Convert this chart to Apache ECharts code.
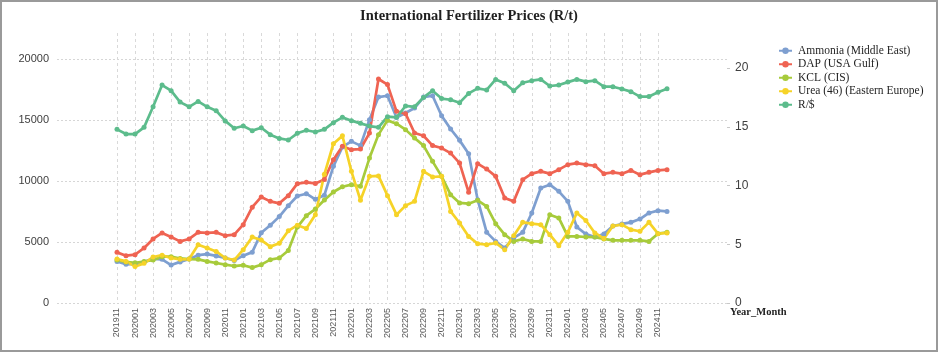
<!DOCTYPE html>
<html>
<head>
<meta charset="utf-8">
<title>International Fertilizer Prices (R/t)</title>
<script src="https://cdn.jsdelivr.net/npm/echarts@6.0.0/dist/echarts.min.js"></script>
<style>
  html, body { margin: 0; padding: 0; background: #fff; }
  #wrap { position: relative; width: 938px; height: 352px; }
  #chart { position: absolute; left: 0; top: 0; width: 938px; height: 352px; }
  #frame {
    position: absolute; left: 0; top: 0; width: 938px; height: 352px;
    box-sizing: border-box; border: 2px solid #9a9a9a; pointer-events: none;
  }
</style>
</head>
<body>
<div id="wrap">
  <div id="chart"></div>
  <div id="frame"></div>
</div>
<script>
const months = [
  '201911', '201912',
  '202001', '202002', '202003', '202004', '202005', '202006', '202007', '202008', '202009', '202010', '202011', '202012',
  '202101', '202102', '202103', '202104', '202105', '202106', '202107', '202108', '202109', '202110', '202111', '202112',
  '202201', '202202', '202203', '202204', '202205', '202206', '202207', '202208', '202209', '202210', '202211', '202212',
  '202301', '202302', '202303', '202304', '202305', '202306', '202307', '202308', '202309', '202310', '202311', '202312',
  '202401', '202402', '202403', '202404', '202405', '202406', '202407', '202408', '202409', '202410', '202411', '202412'
]

// R/t prices (left axis)
const ammonia = [
  3410, 3170, 3200, 3370, 3620, 3580, 3110, 3370, 3600, 3920, 4010, 3860, 3690, 3480, 3880, 4170,
  5760, 6380, 7080, 7980, 8770, 8960, 8500, 8840, 11200, 12790, 13250, 12900, 15030, 16880, 16990, 15200,
  15570, 15980, 16880, 16990, 15350, 14260, 13330, 12240, 8470, 5790, 5050, 4510, 5330, 5790, 7380, 9430,
  9700, 9150, 8330, 6230, 5650, 5410, 5650, 6310, 6480, 6610, 6880, 7380, 7570, 7510
]
const dap = [
  4150, 3880, 3960, 4510, 5250, 5740, 5410, 5050, 5250, 5790, 5740, 5790, 5520, 5600, 6420, 7850,
  8690, 8330, 8170, 8800, 9780, 9890, 9800, 10130, 11750, 12840, 12570, 12620, 13930, 18360, 17900, 15710,
  15520, 13930, 13710, 12900, 12700, 12290, 11470, 9070, 11420, 10980, 10380, 8610, 8330, 10110, 10600, 10790,
  10600, 10930, 11340, 11470, 11340, 11250, 10600, 10710, 10600, 10870, 10520, 10710, 10870, 10930
]
const kcl = [
  3520, 3370, 3300, 3400, 3520, 3800, 3800, 3650, 3600, 3580, 3410, 3280, 3140, 3030, 3100, 2900,
  3140, 3550, 3690, 4300, 6220, 7160, 7700, 8440, 9100, 9530, 9700, 9560, 11880, 13800, 14970, 14700,
  14210, 13520, 12900, 11610, 10380, 8880, 8200, 8140, 8420, 7920, 6500, 5600, 5050, 5250, 5050, 5050,
  7240, 6970, 5460, 5460, 5410, 5400, 5250, 5140, 5140, 5140, 5140, 5050, 5680, 5790
]
const urea = [
  3600, 3410, 3000, 3250, 3770, 3920, 3690, 3580, 3600, 4780, 4510, 4230, 3690, 3520, 4370, 5400,
  5160, 4620, 4890, 5920, 6380, 6100, 7240, 10550, 13060, 13700, 10790, 8420, 10380, 10420, 8800, 7240,
  7980, 8330, 10790, 10330, 10380, 7510, 6560, 5460, 4860, 4780, 4920, 4370, 5520, 6610, 6500, 6420,
  5600, 4700, 5790, 7380, 6760, 5740, 5290, 6310, 6420, 6010, 5880, 6610, 5680, 5740
]
// exchange rate (right axis)
const randPerDollar = [
  14.78, 14.38, 14.38, 14.95, 16.7, 18.55, 18.07, 17.1, 16.7, 17.16, 16.7, 16.37, 15.5, 14.87, 15.06, 14.67,
  14.92, 14.33, 14.01, 13.87, 14.44, 14.7, 14.55, 14.78, 15.35, 15.8, 15.52, 15.29, 15.06, 14.95, 15.86, 15.8,
  16.77, 16.7, 17.5, 18.07, 17.4, 17.3, 17.05, 17.84, 18.27, 18.13, 19.03, 18.7, 18.07, 18.75, 18.92, 19.03,
  18.47, 18.55, 18.8, 19.03, 18.84, 18.92, 18.41, 18.41, 18.21, 17.99, 17.57, 17.57, 17.93, 18.24
]

const seriesNames = ['Ammonia (Middle East)', 'DAP (USA Gulf)', 'KCL (CIS)', 'Urea (46) (Eastern Europe)', 'R/$']
const seriesColors = ['#7e9fd0', '#ef6352', '#a7cb3b', '#f6d328', '#5cbc8c']

const leftMax = 22131
const rightMax = 22.98

const chart = echarts.init(document.getElementById('chart'), null, { renderer: 'canvas' })

function lineSeries(idx, data, yAxisIndex) {
  return {
    name: seriesNames[idx],
    type: 'line',
    xAxisIndex: 1,
    yAxisIndex: yAxisIndex,
    data: data,
    symbol: 'circle',
    symbolSize: 5,
    showSymbol: true,
    lineStyle: { width: 2.7, color: seriesColors[idx] },
    itemStyle: { color: seriesColors[idx] },
    emphasis: { disabled: true },
    animation: false
  }
}

const option = {
  animation: false,
  title: {
    text: 'International Fertilizer Prices (R/t)',
    left: 'center',
    top: 4,
    textStyle: { fontFamily: 'Liberation Serif', fontWeight: 'bold', fontSize: 14.5, color: '#1f1f1f' }
  },
  legend: {
    orient: 'vertical',
    left: 773,
    top: 39,
    itemWidth: 13,
    itemHeight: 8,
    itemGap: 0,
    data: seriesNames,
    textStyle: { fontFamily: 'Liberation Serif', fontSize: 11.5, color: '#1f1f1f', lineHeight: 13.5, padding: [0, 0, 0, 1] }
  },
  grid: [
    { left: 57, right: 211, top: 33, bottom: 49 },
    { left: 117, right: 271, top: 33, bottom: 49 }
  ],
  xAxis: [
    { gridIndex: 0, type: 'value', show: false, min: 0, max: 1 },
    {
      gridIndex: 1,
      type: 'category',
      data: months,
      boundaryGap: false,
      axisLine: { show: false },
      axisTick: { show: false, interval: 1 },
      axisLabel: {
        interval: 1,
        rotate: 90,
        margin: 5,
        fontFamily: 'Liberation Sans',
        fontSize: 9,
        color: '#595959'
      },
      splitLine: {
        show: true,
        interval: 1,
        lineStyle: { color: '#d9d9d9', type: [3, 3], width: 1 }
      }
    }
  ],
  yAxis: [
    {
      gridIndex: 0,
      type: 'value',
      position: 'left',
      min: 0,
      max: leftMax,
      interval: 5000,
      axisLine: { show: false },
      axisTick: { show: false },
      axisLabel: {
        showMaxLabel: false,
        margin: 8,
        fontFamily: 'Liberation Sans',
        fontSize: 11,
        color: '#404040',
        formatter: (v) => String(v)
      },
      splitLine: { show: true, showMaxLine: false, lineStyle: { color: '#d6d6d6', type: [2, 2], width: 1 } }
    },
    {
      gridIndex: 0,
      type: 'value',
      position: 'right',
      min: 0,
      max: rightMax,
      interval: 5,
      axisLine: { show: false },
      axisTick: { show: true, length: 3, lineStyle: { color: '#c8c8c8' } },
      axisLabel: {
        showMaxLabel: false,
        margin: 8,
        fontFamily: 'Liberation Sans',
        fontSize: 12,
        color: '#404040',
        formatter: (v) => String(v)
      },
      splitLine: { show: false }
    },
    { gridIndex: 1, type: 'value', min: 0, max: leftMax, show: false },
    { gridIndex: 1, type: 'value', min: 0, max: rightMax, show: false }
  ],
  graphic: [
    {
      type: 'text',
      left: 730,
      top: 307,
      style: { text: 'Year_Month', font: 'bold 10.5px "Liberation Serif"', fill: '#1f1f1f' }
    }
  ],
  series: [
    lineSeries(0, ammonia, 2),
    lineSeries(1, dap, 2),
    lineSeries(2, kcl, 2),
    lineSeries(3, urea, 2),
    lineSeries(4, randPerDollar, 3)
  ]
}

chart.setOption(option)
</script>
</body>
</html>
